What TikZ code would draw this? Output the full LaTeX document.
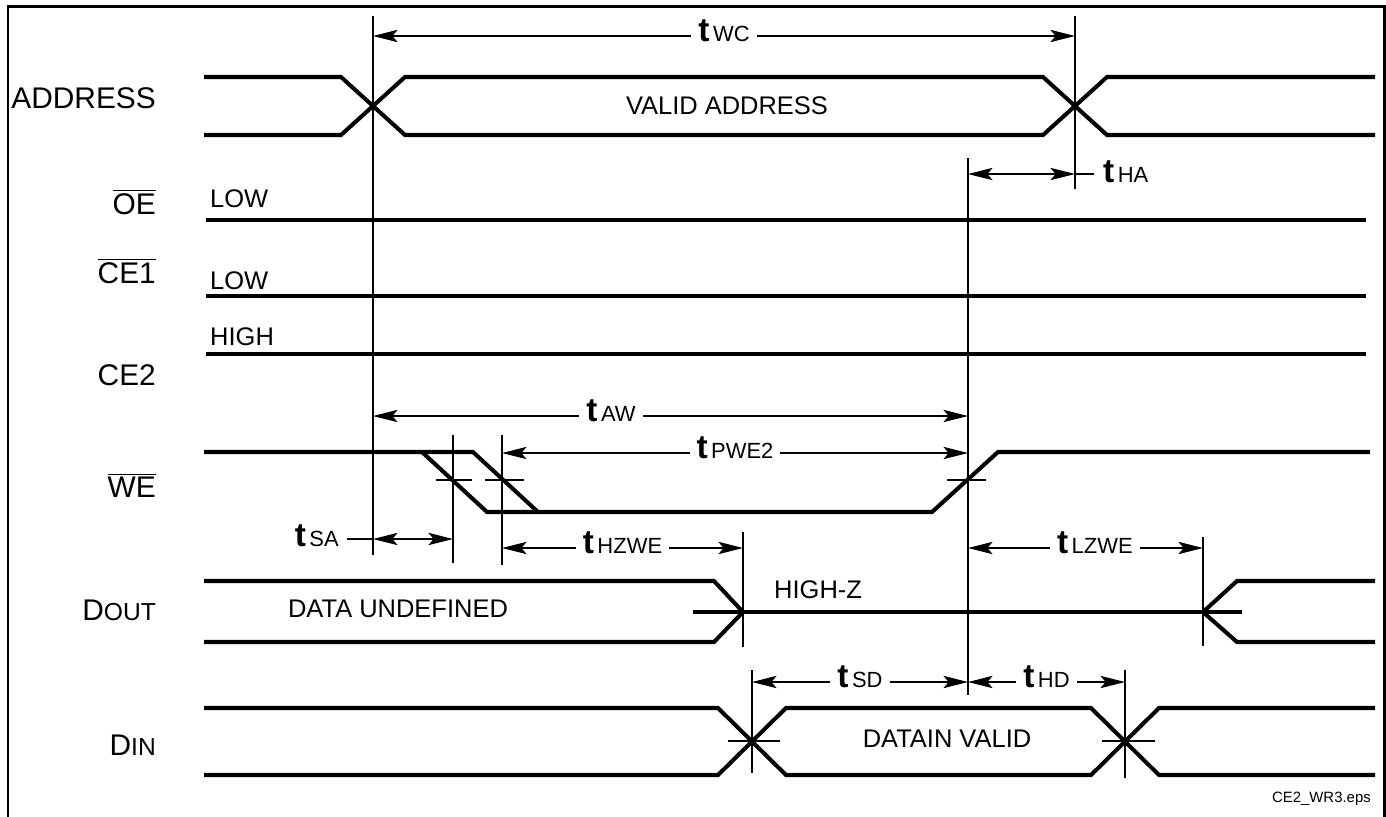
\documentclass[tikz,border=0pt]{standalone}
\usepackage{fontspec}
\setmainfont{Liberation Sans}
\usetikzlibrary{arrows.meta}
\newcommand{\tlab}[1]{{\fontsize{19}{19}\selectfont\bfseries t}\hspace{2pt}{\fontsize{12.5}{13}\selectfont #1}}
\newcommand{\smc}[2]{#1{\fontsize{14}{14}\selectfont #2}}

\begin{document}
\begin{tikzpicture}[x=0.02cm,y=-0.02cm,
	sig/.style={line width=2.3pt},
	guide/.style={line width=0.6pt},
	dim/.style={line width=0.6pt,{Stealth[length=14pt,width=7pt,inset=3pt]}-{Stealth[length=14pt,width=7pt,inset=3pt]}},
	tl/.style={fill=white,inner xsep=4pt,inner ysep=1pt,yshift=3pt},
	lbl/.style={font=\fontsize{17}{18}\selectfont,anchor=east},
	txt/.style={font=\fontsize{14.5}{15}\selectfont}]
\useasboundingbox (0,0) rectangle (1386,816);
%cadre
\draw[line width=1.7pt] (8,830) -- (8,6) -- (1384,6) -- (1384,830);

%noms des signaux
\node[lbl] (nAdr) at (162,98) {ADDRESS};
\node[lbl] (nOE) at (162,202) {$\overline{\mbox{OE}}$};
\node[lbl] (nCE1) at (162,271) {$\overline{\mbox{CE1}}$};
\node[lbl] (nCE2) at (162,375) {CE2};
\node[lbl] (nWE) at (162,485) {$\overline{\mbox{WE}}$};
\node[lbl] (nDout) at (162,610) {\smc{D}{OUT}};
\node[lbl] (nDin) at (162,745) {\smc{D}{IN}};

%ADDRESS
\draw[sig] (204,77) -- (341,77) -- (405,135) -- (1043,135) -- (1107,77) -- (1375,77);
\draw[sig] (204,135) -- (341,135) -- (405,77) -- (1043,77) -- (1107,135) -- (1375,135);
\node[txt] (vAdr) at (727,106) {VALID ADDRESS};

%OE, CE1, CE2
\draw[sig] (206,220) -- (1366,220);
\draw[sig] (206,296) -- (1366,296);
\draw[sig] (206,354) -- (1366,354);
\node[txt,anchor=west] (lowOE) at (204,199) {LOW};
\node[txt,anchor=west] (lowCE) at (204,281) {LOW};
\node[txt,anchor=west] (hiCE) at (204,337) {HIGH};

%WE
\draw[sig] (204,452) -- (473,452) -- (538,512);
\draw[sig] (422,452) -- (487,512) -- (932,512) -- (998,452) -- (1370,452);
\draw[guide] (436,480) -- (472,480);
\draw[guide] (485,480) -- (524,480);
\draw[guide] (947,480) -- (986,480);

%DOUT
\draw[sig] (204,581) -- (714,581) -- (743,612) -- (714,642) -- (204,642);
\draw[sig] (693,612) -- (1242,612);
\draw[sig] (1375,581) -- (1237,581) -- (1203,612) -- (1237,642) -- (1375,642);
\node[txt] (undef) at (398,609) {DATA UNDEFINED};
\node[txt,anchor=west] (hiZ) at (768,590) {HIGH-Z};

%DIN
\draw[sig] (204,708) -- (718,708) -- (786,775) -- (1091,775) -- (1159,708) -- (1375,708);
\draw[sig] (204,775) -- (718,775) -- (786,708) -- (1091,708) -- (1159,775) -- (1375,775);
\draw[guide] (728,741) -- (780,741);
\draw[guide] (1102,741) -- (1155,741);
\node[txt] (vDin) at (947,739) {DATAIN VALID};

%reperes verticaux
\coordinate (a1t) at (373,16);   \coordinate (a1b) at (373,555);
\coordinate (a2t) at (1075,16);  \coordinate (a2b) at (1075,189);
\coordinate (w1t) at (453,435);  \coordinate (w1b) at (453,563);
\coordinate (w2t) at (502,435);  \coordinate (w2b) at (502,565);
\coordinate (w3t) at (968,158);  \coordinate (w3b) at (968,695);
\coordinate (o1t) at (743,532);  \coordinate (o1b) at (743,647);
\coordinate (o2t) at (1203,537); \coordinate (o2b) at (1203,646);
\coordinate (i1t) at (752,670);  \coordinate (i1b) at (752,773);
\coordinate (i2t) at (1125,670); \coordinate (i2b) at (1125,778);
\foreach \v in {a1,a2,w1,w2,w3,o1,o2,i1,i2}
	\draw[guide] (\v t) -- (\v b);

%cotes
\draw[dim] (a1t |- 0,36) -- (a2t |- 0,36) node[tl,midway] (tWC) {\tlab{WC}};
\draw[dim] (w3t |- 0,174) -- (a2t |- 0,174);
\coordinate (haE) at (1094,174);
\draw[guide] (a2t |- 0,174) -- (haE);
\node[anchor=west] (tHA) at (1097,172) {\tlab{HA}};
\draw[dim] (a1t |- 0,416) -- (w3t |- 0,416) node[tl,pos=.4] (tAW) {\tlab{AW}};
\draw[dim] (w2t |- 0,453) -- (w3t |- 0,453) node[tl,midway] (tPWE) {\tlab{PWE2}};
\coordinate (saW) at (347,539);
\draw[guide] (saW) -- (a1t |- 0,539);
\draw[dim] (a1t |- 0,539) -- (w1t |- 0,539);
\node[anchor=east] (tSA) at (345,536) {\tlab{SA}};
\draw[dim] (w2t |- 0,548) -- (o1t |- 0,548) node[tl,midway] (tHZ) {\tlab{HZWE}};
\draw[dim] (w3t |- 0,548) -- (o2t |- 0,548) node[tl,pos=.54] (tLZ) {\tlab{LZWE}};
\draw[dim] (i1t |- 0,682) -- (w3t |- 0,682) node[tl,midway] (tSD) {\tlab{SD}};
\draw[dim] (w3t |- 0,682) -- (i2t |- 0,682) node[tl,midway] (tHD) {\tlab{HD}};

\node[anchor=base east,font=\fontsize{8.5}{9}\selectfont] (fname) at (1377,802) {CE2\_WR3.eps};
\end{tikzpicture}
\end{document}
